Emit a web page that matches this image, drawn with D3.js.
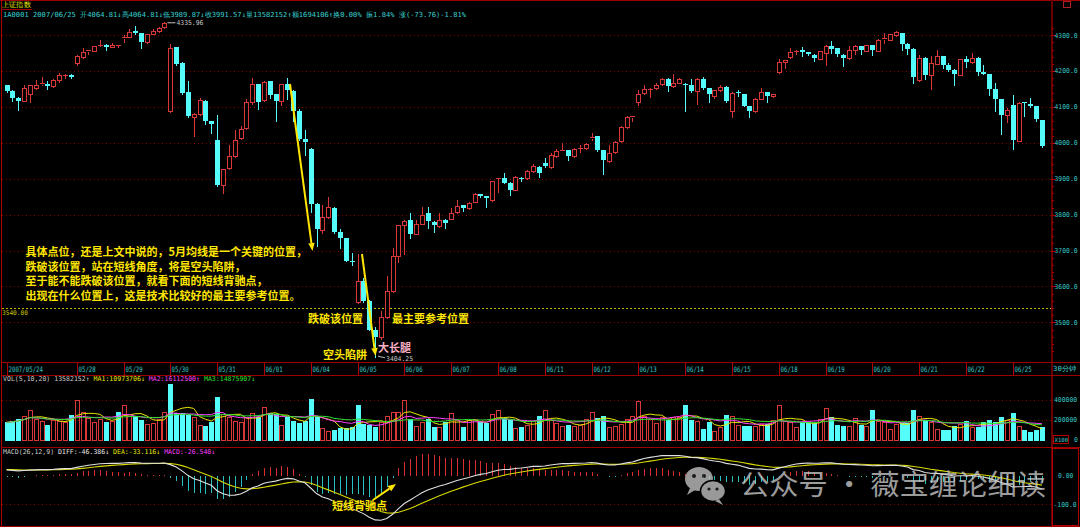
<!DOCTYPE html>
<html><head><meta charset="utf-8">
<script src="https://cdn.jsdelivr.net/npm/d3@7/dist/d3.min.js"></script>
<style>html,body{margin:0;padding:0;background:#000;overflow:hidden}svg{display:block}</style>
</head><body><svg id="c" width="1080" height="527"></svg>
<script>
// ---------------- DATA ----------------
const days = ["2007/05/24","05/25","05/28","05/29","05/30","05/31","06/01","06/04","06/05","06/06","06/07","06/08","06/11","06/12","06/13","06/14","06/15","06/18","06/19","06/20","06/21","06/22","06/25"];
const barsPerDay = [4,8,8,8,8,8,8,8,8,8,8,8,8,8,8,8,8,8,8,8,8,8,6];

const open = [
4160,4144,4125,4118,
4137,4153,4165,4165,4158,4176,4189,4190,
4223,4239,4257,4257,4273,4274,4268,4272,
4293,4295,4313,4306,4281,4304,4311,4322,
4088,4266,4223,4141,4072,4081,4118,4060,
4008,3882,3929,3963,4014,4042,4114,4164,
4119,4172,4135,4117,4163,4145,4090,4011,
3984,3831,3756,3793,3819,3752,3734,3672,
3557,3616,3560,3478,3460,3515,3588,3684,
3770,3784,3747,3775,3804,3780,3768,3786,
3789,3807,3826,3819,3836,3858,3852,3841,
3902,3903,3889,3870,3903,3903,3921,3933,
3943,3933,3963,3978,3980,3963,3985,3986,
4015,4019,3980,3949,3975,4005,4044,4073,
4114,4139,4150,4153,4163,4179,4159,4168,
4165,4160,4144,4179,4153,4132,4147,4157,
4088,4142,4135,4103,4088,4123,4142,4130,
4198,4225,4239,4255,4260,4252,4246,4235,
4251,4271,4263,4246,4237,4258,4269,4257,
4272,4257,4290,4288,4300,4306,4276,4262,
4174,4237,4190,4221,4242,4216,4204,4190,
4234,4225,4237,4197,4192,4150,4121,4077,
4105,4005,4113,4109,4102,4064.81];

const high = [
4162,4146,4127,4161,
4162,4176,4183,4172,4178,4195,4191,4191,
4246,4265,4260,4270,4287,4275,4279,4274,
4300,4316,4327,4307,4304,4316,4322,4335.96,
4276,4268,4225,4172,4082,4126,4120,4061,
4079,3928,3995,4037,4047,4121,4181,4165,
4172,4173,4136,4165,4182,4147,4094,4036,
3987,3832,3826,3849,3821,3761,3736,3694,
3691,3625,3562,3486,3531,3629,3708,3772,
3786,3805,3784,3821,3821,3782,3805,3787,
3819,3841,3827,3836,3860,3859,3853,3895,
3903,3917,3890,3909,3905,3925,3940,3935,
3957,3972,3983,4000,3981,3985,3995,3999,
4028,4020,3981,3993,4005,4046,4074,4075,
4146,4161,4152,4166,4181,4180,4193,4180,
4166,4177,4181,4183,4154,4148,4160,4158,
4141,4148,4136,4104,4125,4153,4143,4137,
4234,4232,4265,4258,4268,4253,4247,4257,
4274,4283,4264,4247,4271,4274,4270,4273,
4273,4289,4306,4303,4313,4307,4277,4263,
4246,4238,4242,4258,4243,4223,4205,4235,
4242,4251,4238,4218,4193,4167,4122,4098,
4133,4113,4114,4125,4103,4064.81];

const low = [
4142,4116,4093,4116,
4114,4149,4162,4151,4156,4170,4181,4182,
4218,4237,4248,4255,4271,4258,4267,4267,
4281,4294,4302,4265,4279,4302,4309,4320,
4086,4218,4136,4072,4019,4079,4053,4028,
3880,3861,3926,3960,4012,4040,4107,4095,
4117,4126,4061,4105,4121,4060,4009,3967,
3808,3712,3749,3791,3750,3708,3670,3661,
3555,3558,3478,3404.25,3455,3512,3585,3668,
3690,3736,3745,3773,3763,3752,3766,3763,
3787,3805,3810,3817,3834,3850,3821,3839,
3864,3887,3854,3868,3893,3900,3919,3905,
3933,3931,3961,3977,3952,3961,3976,3984,
4007,3977,3912,3947,3973,4003,4042,4060,
4105,4137,4127,4151,4161,4144,4155,4166,
4088,4142,4109,4151,4114,4124,4145,4114,
4072,4130,4102,4072,4086,4121,4114,4128,
4196,4209,4237,4248,4241,4246,4228,4233,
4216,4251,4242,4214,4235,4248,4248,4255,
4246,4255,4279,4286,4299,4260,4248,4167,
4172,4179,4151,4219,4209,4200,4161,4188,
4211,4223,4189,4192,4133,4090,4025,4059,
3984,4004,4074,4101,4060,3989.87];

const close = [
4144,4125,4118,4153,
4160,4160,4167,4159,4176,4190,4190,4183,
4241,4254,4258,4269,4274,4268,4274,4273,
4295,4309,4306,4280,4302,4311,4320,4333,
4265,4220,4138,4074,4081,4119,4060,4054,
3882,3926,3963,4008,4040,4114,4165,4114,
4170,4133,4117,4163,4146,4090,4011,4003,
3831,3759,3793,3821,3752,3734,3672,3669,
3616,3560,3480,3460,3515,3588,3684,3770,
3782,3747,3775,3800,3782,3771,3784,3778,
3805,3823,3819,3832,3858,3852,3847,3893,
3903,3889,3868,3904,3901,3923,3935,3915,
3935,3965,3977,3979,3963,3983,3986,3997,
4017,3980,3952,3972,4003,4044,4072,4074,
4137,4149,4151,4161,4179,4158,4167,4178,
4160,4144,4179,4153,4135,4146,4156,4118,
4139,4140,4104,4088,4123,4142,4130,4135,
4225,4230,4254,4256,4254,4248,4237,4255,
4269,4262,4248,4237,4258,4269,4258,4272,
4260,4288,4291,4302,4308,4276,4262,4183,
4237,4189,4223,4242,4216,4204,4192,4234,
4225,4237,4197,4193,4151,4121,4077,4093,
4008,4112,4111,4102,4065.33,3991.57];

// volume, in the axis unit (x100)
const volume = [
176700,186600,210000,243000,
300000,210000,193000,153000,200000,193000,183000,253000,
393000,277000,220000,177000,210000,183000,193000,277000,
350000,243000,243000,200000,160000,167000,210000,277000,
553000,267000,267000,253000,227000,153000,140000,177000,
427000,260000,227000,187000,177000,233000,267000,233000,
327000,267000,260000,153000,233000,187000,167000,193000,
403000,233000,120000,93000,100000,120000,120000,127000,
350000,160000,153000,127000,177000,243000,277000,277000,
393000,210000,143000,177000,210000,127000,127000,177000,
267000,200000,133000,200000,210000,177000,167000,260000,
293000,220000,200000,120000,127000,153000,193000,237000,
293000,200000,167000,143000,153000,143000,150000,210000,
277000,220000,243000,127000,143000,160000,210000,243000,
383000,243000,210000,167000,233000,200000,227000,227000,
343000,200000,193000,117000,177000,93000,127000,253000,
243000,153000,137000,143000,137000,160000,160000,200000,
347000,193000,183000,127000,183000,177000,167000,210000,
320000,227000,150000,143000,143000,220000,153000,143000,
293000,193000,177000,110000,160000,167000,167000,293000,
243000,200000,177000,110000,103000,103000,143000,160000,
187000,127000,133000,177000,203000,177000,227000,200000,
267000,137000,103000,87000,103000,135821];

const priceTicks = [3500,3600,3700,3800,3900,4000,4100,4200,4300];
const volTicks = [200000,400000];
const macdTicks = [0,-100];
const supportLevel = 3540;
const volMAPeriods = [5,10,20];
const macdParams = [26,12,9];
const macdSeed = [4119, 4100, 22]; // EMA12, EMA26, DEA before first visible bar
const titleText = "上证指数";
const infoLine = "1A0001 2007/06/25 开4064.81↓高4064.81↓低3989.87↓收3991.57↓量13582152↑额1694106↑换0.00% 振1.84% 涨(-73.76)-1.81%";
const volTitle = [["VOL(5,10,20) ","#c8c8c8"],["13582152↑ ","#c8c8c8"],["MA1:10973706↓ ","#e8e800"],["MA2:16112500↑ ","#ff40ff"],["MA3:14875907↓","#30e030"]];
const macdTitle = [["MACD(26,12,9) ","#c8c8c8"],["DIFF:-46.386↓ ","#e8e8e8"],["DEA:-33.116↓ ","#e8e800"],["MACD:-26.540↓","#ff40ff"]];
const noteLines = ["具体点位，还是上文中说的，5月均线是一个关键的位置，","跌破该位置，站在短线角度，将是空头陷阱，","至于能不能跌破该位置，就看下面的短线背驰点，","出现在什么位置上，这是技术比较好的最主要参考位置。"];
const labels = {breakPos:"跌破该位置", keyPos:"最主要参考位置", trap:"空头陷阱", longLeg:"大长腿", div:"短线背驰点"};
const watermark = "公众号 · 薇宝缠论细读";

// ---------------- CHART ----------------
const svg = d3.select("#c");
const W = 1080, H = 527, N = close.length;
const RED = "#d83838", CYAN = "#54fcfc", GRIDC = "#8a0000", AXC = "#9a0000", TXT = "#38c8c8";
const mono = "'DejaVu Sans Mono', monospace";
const cjk = "'Noto Sans CJK SC', 'Noto Sans', sans-serif";

svg.append("rect").attr("width", W).attr("height", H).attr("fill", "#000");

const x = d3.scaleBand().domain(d3.range(N)).range([3.575, 3.575 + 5.85 * N]).paddingInner(0.15).paddingOuter(0.075);
const cx = i => x(i) + x.bandwidth() / 2;
const y = d3.scaleLinear().domain([3500, 4300]).range([322.4, 35.2]);
const yv = d3.scaleLinear().domain([0, 400000]).range([440.5, 399.5]);
const ym = d3.scaleLinear().domain([-100, 0]).range([504.2, 475.6]);

const plotL = 2, plotR = 1051;

function units(s) { let u = 0; for (const ch of s) u += (ch.charCodeAt(0) > 0x2e80 ? 2 : 1); return u; }
function mtext(g, s, x0, yc, cw, fs, color) {
  const w = units(s) * cw;
  return g.append("text").attr("x", x0).attr("y", yc).attr("dy", "0.35em")
    .attr("font-family", mono).attr("font-size", fs).attr("fill", color)
    .attr("textLength", w).attr("lengthAdjust", "spacingAndGlyphs").text(s);
}
function segText(g, segs, x0, yc, cw, fs) {
  const t = g.append("text").attr("x", x0).attr("y", yc).attr("dy", "0.35em").attr("font-family", mono).attr("font-size", fs);
  let tot = 0;
  segs.forEach(([s, c]) => { t.append("tspan").attr("fill", c).text(s); tot += units(s) * cw; });
  t.attr("textLength", tot).attr("lengthAdjust", "spacingAndGlyphs");
  return t;
}

// ---- frame lines
const frame = svg.append("g").attr("shape-rendering", "crispEdges");
frame.append("line").attr("x1", 0).attr("x2", W).attr("y1", 0.5).attr("y2", 0.5).attr("stroke", AXC);
frame.append("line").attr("x1", 1.5).attr("x2", 1.5).attr("y1", 0).attr("y2", H).attr("stroke", "#b00000");
frame.append("line").attr("x1", plotR + 0.5).attr("x2", plotR + 0.5).attr("y1", 0).attr("y2", H).attr("stroke", "#6a0000").attr("stroke-width", 2);
[362.5, 375.5, 447.5].forEach(v => frame.append("line").attr("x1", 1).attr("x2", W).attr("y1", v).attr("y2", v).attr("stroke", AXC));
frame.append("line").attr("x1", 0).attr("x2", W).attr("y1", H - 0.5).attr("y2", H - 0.5).attr("stroke", AXC);
frame.append("rect").attr("x", 1063.5).attr("y", 1.5).attr("width", 7).attr("height", 6).attr("fill", "none").attr("stroke", "#b02020");
frame.append("rect").attr("x", 1052.5).attr("y", 448.5).attr("width", 26).attr("height", 77).attr("fill", "none").attr("stroke", "#b00000");

// ---- grids
const grid = svg.append("g").attr("shape-rendering", "crispEdges").attr("stroke", GRIDC).attr("stroke-dasharray", "1,3");
priceTicks.forEach(p => grid.append("line").attr("x1", plotL).attr("x2", plotR).attr("y1", Math.round(y(p)) + 0.5).attr("y2", Math.round(y(p)) + 0.5));
volTicks.forEach(v => grid.append("line").attr("x1", plotL).attr("x2", plotR).attr("y1", Math.round(yv(v)) + 0.5).attr("y2", Math.round(yv(v)) + 0.5));
macdTicks.filter(v => v !== 0).forEach(v => grid.append("line").attr("x1", plotL).attr("x2", plotR).attr("y1", Math.round(ym(v)) + 0.5).attr("y2", Math.round(ym(v)) + 0.5));

// support line
svg.append("line").attr("x1", plotL).attr("x2", plotR).attr("y1", Math.round(y(supportLevel)) + 0.5).attr("y2", Math.round(y(supportLevel)) + 0.5)
  .attr("stroke", "#c8b400").attr("stroke-dasharray", "2,2").attr("shape-rendering", "crispEdges");
mtext(svg, supportLevel.toFixed(2), 2, y(supportLevel) + 4.5, 3.7, 6.5, "#c8c000");

// ---- right price axis
const ax = svg.append("g");
d3.range(3420, 4340, 20).forEach(p => {
  const yy = Math.round(y(p)) + 0.5;
  ax.append("line").attr("x1", plotR + 1).attr("x2", plotR + (p % 100 === 0 ? 5 : 3)).attr("y1", yy).attr("y2", yy).attr("stroke", "#b00000").attr("shape-rendering", "crispEdges");
});
priceTicks.forEach(p => mtext(ax, p.toFixed(1), 1054.5, y(p), 3.85, 6.6, TXT));

// ---- date axis
const dayStart = []; let acc = 0; barsPerDay.forEach(n => { dayStart.push(acc); acc += n; });
let lastEnd = -1e9;
days.forEach((d, k) => {
  const xx = Math.round(cx(dayStart[k]));
  const w = d.length * 3.45;
  if (xx < lastEnd) return;
  svg.append("line").attr("x1", xx + 0.5).attr("x2", xx + 0.5).attr("y1", 363).attr("y2", 375).attr("stroke", "#b00000").attr("shape-rendering", "crispEdges");
  mtext(svg, d, xx + 1.5, 369, 3.45, 7.5, TXT);
  lastEnd = xx + 1.5 + w + 3;
});
mtext(svg, "30分钟", 1053, 369, 3.9, 7, "#40d0d0");

// ---- candles
const cg = svg.append("g").attr("shape-rendering", "crispEdges");
for (let i = 0; i < N; i++) {
  const px = Math.round(cx(i));
  const yo = Math.round(y(open[i])), yc = Math.round(y(close[i]));
  const yh = Math.round(y(high[i])), yl = Math.round(y(low[i]));
  if (close[i] >= open[i]) {
    if (yh < yc) cg.append("line").attr("x1", px + 0.5).attr("x2", px + 0.5).attr("y1", yh).attr("y2", yc).attr("stroke", RED);
    if (yl > yo) cg.append("line").attr("x1", px + 0.5).attr("x2", px + 0.5).attr("y1", yo + 1).attr("y2", yl + 1).attr("stroke", RED);
    if (yo - yc >= 2) cg.append("rect").attr("x", px - 1.5).attr("y", yc + 0.5).attr("width", 4).attr("height", yo - yc).attr("fill", "#000").attr("stroke", RED);
    else cg.append("line").attr("x1", px - 2).attr("x2", px + 3).attr("y1", yc + 0.5).attr("y2", yc + 0.5).attr("stroke", RED);
  } else {
    cg.append("line").attr("x1", px + 0.5).attr("x2", px + 0.5).attr("y1", yh).attr("y2", yl + 1).attr("stroke", CYAN);
    cg.append("rect").attr("x", px - 2).attr("y", yo).attr("width", 5).attr("height", Math.max(yc - yo, 1)).attr("fill", CYAN);
  }
}

// extreme labels
const iHi = d3.maxIndex(high), iLo = d3.minIndex(low);
svg.append("line").attr("x1", cx(iHi) + 3).attr("x2", cx(iHi) + 11).attr("y1", y(high[iHi]) + 0.5).attr("y2", y(high[iHi]) + 0.5).attr("stroke", "#c0c0c0");
mtext(svg, high[iHi].toFixed(2), cx(iHi) + 12, y(high[iHi]) + 0.5, 3.85, 6.6, "#c8c8c8");
svg.append("line").attr("x1", cx(iLo) + 3).attr("x2", cx(iLo) + 10).attr("y1", y(low[iLo]) - 0.5).attr("y2", y(low[iLo]) + 1).attr("stroke", "#c0c0c0");
mtext(svg, low[iLo].toFixed(2), cx(iLo) + 11, y(low[iLo]) + 2, 3.85, 6.6, "#c8c8c8");

// ---- volume
const vg = svg.append("g").attr("shape-rendering", "crispEdges");
for (let i = 0; i < N; i++) {
  const px = Math.round(cx(i));
  const up = i === 0 ? close[i] >= open[i] : close[i] >= close[i - 1];
  const yt = Math.round(yv(volume[i])), yb = Math.round(yv(0));
  if (up) vg.append("rect").attr("x", px - 1.5).attr("y", yt + 0.5).attr("width", 4).attr("height", yb - yt - 1).attr("fill", "none").attr("stroke", RED);
  else vg.append("rect").attr("x", px - 2).attr("y", yt).attr("width", 5).attr("height", yb - yt).attr("fill", CYAN);
}
const maColors = ["#e8e800", "#ff40ff", "#30e030"];
volMAPeriods.forEach((p, k) => {
  const ma = volume.map((v, i) => d3.mean(volume.slice(Math.max(0, i - p + 1), i + 1)));
  svg.append("path").attr("d", d3.line().x((d, i) => cx(i)).y(d => yv(d))(ma)).attr("fill", "none").attr("stroke", maColors[k]).attr("stroke-width", 1);
});
volTicks.forEach(v => mtext(svg, String(v), 1054, yv(v), 3.85, 6.6, TXT));
svg.append("rect").attr("x", 1053.5).attr("y", 435.5).attr("width", 15).attr("height", 8).attr("fill", "none").attr("stroke", "#b00000");
mtext(svg, "X100", 1054.5, 440, 3.4, 5.8, TXT);
mtext(svg, "0", 1074, 439.5, 3.85, 6.6, TXT);

// ---- MACD
const [nSlow, nFast, nSig] = macdParams;
let e12 = macdSeed[0], e26 = macdSeed[1], dea = macdSeed[2];
const diffArr = [], deaArr = [], histArr = [];
close.forEach(c => {
  e12 += 2 / (nFast + 1) * (c - e12);
  e26 += 2 / (nSlow + 1) * (c - e26);
  const df = e12 - e26;
  dea += 2 / (nSig + 1) * (df - dea);
  diffArr.push(df); deaArr.push(dea); histArr.push(2 * (df - dea));
});
const mg = svg.append("g").attr("shape-rendering", "crispEdges");
histArr.forEach((h, i) => {
  const px = Math.round(cx(i)) + 0.5;
  mg.append("line").attr("x1", px).attr("x2", px).attr("y1", ym(0)).attr("y2", ym(h)).attr("stroke", h >= 0 ? "#d83030" : "#28c0c0");
});
svg.append("path").attr("d", d3.line().x((d, i) => cx(i)).y(d => ym(d))(deaArr)).attr("fill", "none").attr("stroke", "#d8d800").attr("stroke-width", 1.1);
svg.append("path").attr("d", d3.line().x((d, i) => cx(i)).y(d => ym(d))(diffArr)).attr("fill", "none").attr("stroke", "#e0e0e0").attr("stroke-width", 1.1);
mtext(svg, macdTicks[0].toFixed(2), 1058, ym(0), 3.85, 6.6, TXT);
mtext(svg, macdTicks[1].toFixed(1), 1053.5, ym(-100), 3.85, 6.6, TXT);

// ---- titles
mtext(svg, titleText, 2, 5, 3.6, 7, "#e8e800");
svg.append("line").attr("x1", 1).attr("x2", 32).attr("y1", 9.5).attr("y2", 9.5).attr("stroke", AXC).attr("shape-rendering", "crispEdges");
mtext(svg, infoLine, 3, 15, 463 / units(infoLine), 7, "#38d0d0");
segText(svg, volTitle, 3, 379, 3.94, 6.6);
segText(svg, macdTitle, 3, 451.5, 3.93, 6.6);

// ---- annotations
const YEL = "#ffe600";
function note(s, x0, yc, fs, color) {
  return svg.append("text").attr("x", x0).attr("y", yc).attr("dy", "0.36em").attr("font-family", cjk).attr("font-weight", "bold")
    .attr("font-size", fs).attr("fill", color).attr("stroke", "#000").attr("stroke-width", 0.6).attr("paint-order", "stroke").text(s);
}
noteLines.forEach((s, k) => note(s, 25.5, 252.5 + k * 14.5, 11, YEL));
note(labels.breakPos, 308, 319, 11, YEL);
note(labels.keyPos, 392, 319, 11, YEL);
note(labels.trap, 323, 355, 11, YEL);
note(labels.longLeg, 378, 348.5, 11, "#ffb0c8");
note(labels.div, 332, 506, 11, YEL);

function arrow(x1, y1, x2, y2, w) {
  const ang = Math.atan2(y2 - y1, x2 - x1), L = 8, Wd = 3.2;
  const bx = x2 - L * Math.cos(ang), by = y2 - L * Math.sin(ang);
  svg.append("line").attr("x1", x1).attr("y1", y1).attr("x2", bx).attr("y2", by).attr("stroke", YEL).attr("stroke-width", w);
  svg.append("path").attr("d", `M${x2},${y2}L${bx - Wd * Math.sin(ang)},${by + Wd * Math.cos(ang)}L${bx + Wd * Math.sin(ang)},${by - Wd * Math.cos(ang)}Z`).attr("fill", YEL);
}
arrow(290, 84, 312.5, 251, 2);
arrow(362, 254, 375.5, 356, 2);
arrow(373, 500, 396, 484, 2);

// ---- watermark
const wm = svg.append("g").attr("opacity", 0.78);
wm.append("ellipse").attr("cx", 699).attr("cy", 479).attr("rx", 14).attr("ry", 12).attr("fill", "#c4c4c4");
wm.append("path").attr("d", "M690,488 L687,495 L695,490 Z").attr("fill", "#c4c4c4");
wm.append("ellipse").attr("cx", 713).attr("cy", 491).attr("rx", 12.5).attr("ry", 10.5).attr("fill", "#c4c4c4").attr("stroke", "#000").attr("stroke-width", 1.5);
wm.append("path").attr("d", "M719,499 L723,505 L715,501 Z").attr("fill", "#c4c4c4");
[[694, 476, 2], [704, 476, 2], [709, 489, 1.6], [717, 489, 1.6]].forEach(([a, b, r]) => wm.append("circle").attr("cx", a).attr("cy", b).attr("r", r).attr("fill", "#222"));
wm.append("text").attr("x", 740).attr("y", 485).attr("dy", "0.36em").attr("font-family", cjk).attr("font-size", 28)
  .attr("fill", "#c8c8c8").attr("textLength", 306).attr("lengthAdjust", "spacingAndGlyphs").text(watermark);
</script>
</body></html>
